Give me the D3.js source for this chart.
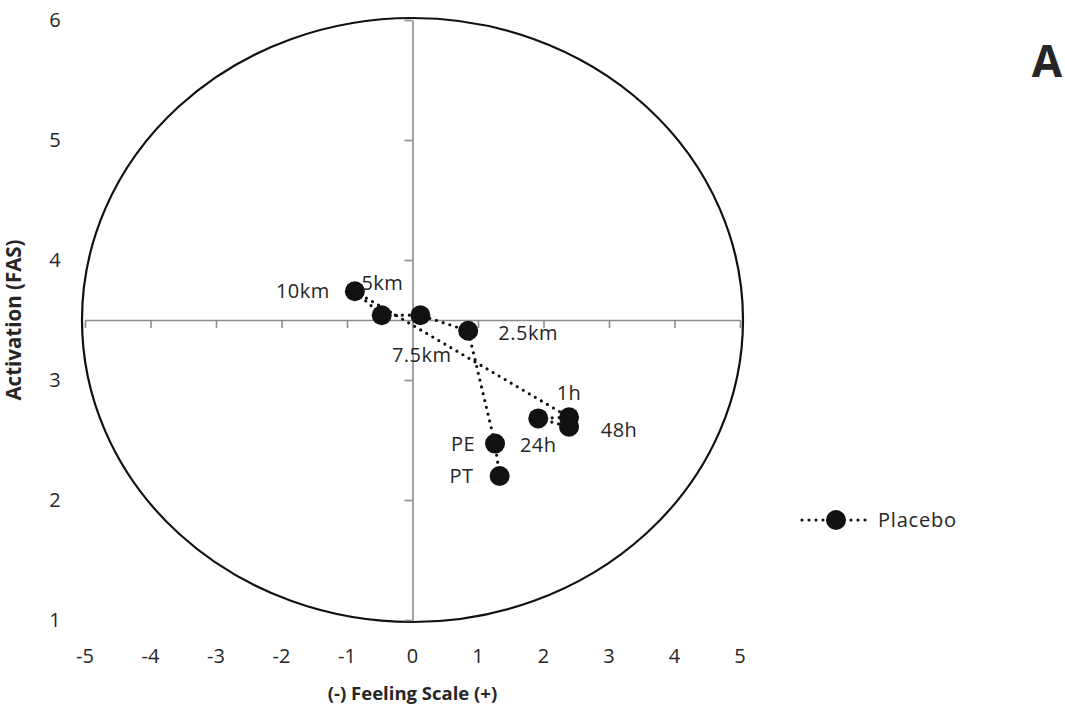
<!DOCTYPE html>
<html>
<head>
<meta charset="utf-8">
<script src="https://cdn.jsdelivr.net/npm/d3@7"></script>
<style>
  body { margin: 0; background: #fff; }
  text { font-family: 'Open Sans', 'Liberation Sans', sans-serif; fill: #262626; }
</style>
</head>
<body>
<div id="chart-area"></div>
<script>
// Placebo time points, in plotted order
var labels = ['PT', 'PE', '2.5km', '5km', '7.5km', '10km', '1h', '24h', '48h']
var feeling = [1.33, 1.26, 0.85, 0.12, -0.47, -0.88, 2.39, 1.92, 2.39]
var activation = [2.20, 2.47, 3.41, 3.54, 3.54, 3.74, 2.69, 2.68, 2.61]

var xTicks = [-5, -4, -3, -2, -1, 0, 1, 2, 3, 4, 5]
var yTicks = [1, 2, 3, 4, 5, 6]

// where each point's label sits relative to its marker (px)
var labelOffset = {
  'PT': [-38, 0], 'PE': [-32, 0], '2.5km': [60, 2], '5km': [-38, -32],
  '7.5km': [40, 40], '10km': [-52, 0], '1h': [0, -24], '24h': [0, 27], '48h': [50, 3]
}

var W = 1065, H = 720
var margin = { top: 20, left: 85, right: 325, bottom: 100 }
var width = W - margin.left - margin.right
var height = H - margin.top - margin.bottom

var svg = d3.select('#chart-area').append('svg')
    .attr('width', W).attr('height', H)

var g = svg.append('g').attr('transform', `translate(${margin.left}, ${margin.top})`)

var x = d3.scaleLinear().domain([-5, 5]).range([0, width])
var y = d3.scaleLinear().domain([1, 6]).range([height, 0])

var data = labels.map((l, i) => ({ label: l, fs: feeling[i], fas: activation[i] }))

// ellipse (circumplex), centred on the crossing of the axes
g.append('ellipse')
    .attr('cx', x(0)).attr('cy', y(3.5))
    .attr('rx', x(5) - x(0) + 3).attr('ry', y(1) - y(3.5) + 2)
    .attr('fill', 'none').attr('stroke', '#111').attr('stroke-width', 2.2)

// horizontal axis at FAS 3.5
var xAxis = g.append('g').attr('transform', `translate(0, ${y(3.5)})`)
    .call(d3.axisBottom(x).tickValues(xTicks).tickSize(8).tickSizeOuter(0).tickFormat(''))
xAxis.select('.domain').attr('stroke', '#8c8c8c').attr('stroke-width', 1.6)
xAxis.selectAll('.tick line').attr('stroke', '#8c8c8c').attr('stroke-width', 1.6)

// vertical axis at FS 0
var yAxis = g.append('g').attr('transform', `translate(${x(0)}, 0)`)
    .call(d3.axisLeft(y).tickValues(yTicks).tickSize(8).tickSizeOuter(0).tickFormat(''))
yAxis.select('.domain').attr('stroke', '#8c8c8c').attr('stroke-width', 1.6)
yAxis.selectAll('.tick line').attr('stroke', '#8c8c8c').attr('stroke-width', 1.6)

// tick labels sit low / at the far left
g.selectAll('.xlab').data(xTicks).enter().append('text')
    .attr('class', 'xlab')
    .attr('x', d => x(d)).attr('y', height + 43)
    .attr('text-anchor', 'middle').attr('font-size', '20px')
    .text(d => d)

g.selectAll('.ylab').data(yTicks).enter().append('text')
    .attr('class', 'ylab')
    .attr('x', -30).attr('y', d => y(d)).attr('dy', '0.35em')
    .attr('text-anchor', 'middle').attr('font-size', '20px')
    .text(d => d)

g.append('text')
    .attr('x', width / 2).attr('y', height + 80)
    .attr('text-anchor', 'middle').attr('font-size', '18.5px').attr('font-weight', 'bold')
    .text('(-) Feeling Scale (+)')

g.append('text')
    .attr('transform', `translate(-64, ${y(3.5)}) rotate(-90)`)
    .attr('text-anchor', 'middle').attr('font-size', '20.5px').attr('font-weight', 'bold')
    .text('Activation (FAS)')

// dotted series line
var line = d3.line().x(d => x(d.fs)).y(d => y(d.fas))
g.append('path').datum(data)
    .attr('d', line)
    .attr('fill', 'none').attr('stroke', '#111').attr('stroke-width', 3.2)
    .attr('stroke-linecap', 'round').attr('stroke-dasharray', '0 7')

g.selectAll('.pt').data(data).enter().append('circle')
    .attr('class', 'pt')
    .attr('cx', d => x(d.fs)).attr('cy', d => y(d.fas)).attr('r', 10)
    .attr('fill', '#111')

g.selectAll('.plab').data(data).enter().append('text')
    .attr('class', 'plab')
    .attr('x', d => x(d.fs) + labelOffset[d.label][0])
    .attr('y', d => y(d.fas) + labelOffset[d.label][1])
    .attr('dy', '0.35em').attr('text-anchor', 'middle').attr('font-size', '20px')
    .attr('letter-spacing', '0.5px')
    .text(d => d.label)

// legend
var lg = svg.append('g').attr('transform', 'translate(800, 520)')
lg.append('line').attr('x1', 2).attr('x2', 66).attr('y1', 0).attr('y2', 0)
    .attr('stroke', '#111').attr('stroke-width', 3.2)
    .attr('stroke-linecap', 'round').attr('stroke-dasharray', '0 7')
lg.append('circle').attr('cx', 36).attr('cy', 0).attr('r', 10).attr('fill', '#111')
lg.append('text').attr('x', 78).attr('y', 0).attr('dy', '0.35em')
    .attr('font-size', '20px').attr('letter-spacing', '0.8px').text('Placebo')

// panel letter
svg.append('text').attr('x', 1047).attr('y', 77)
    .attr('text-anchor', 'middle').attr('font-size', '44px').attr('font-weight', 'bold')
    .attr('fill', '#1a1a1a')
    .text('A')
</script>
</body>
</html>
